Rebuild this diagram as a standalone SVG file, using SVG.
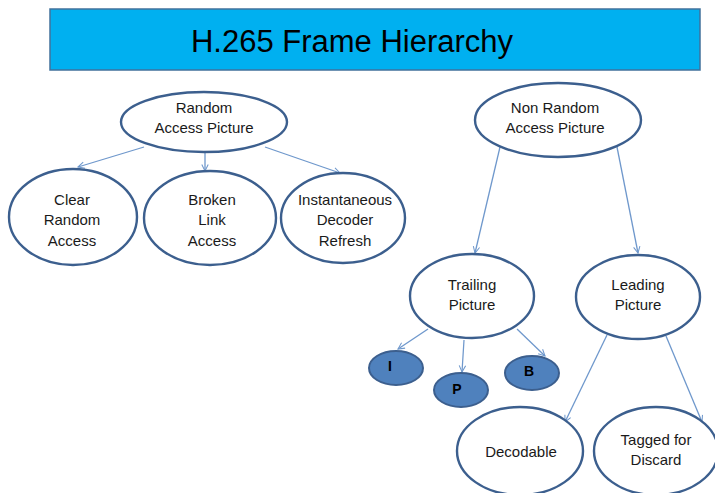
<svg xmlns="http://www.w3.org/2000/svg" width="715" height="493" viewBox="0 0 715 493">
<defs>
<marker id="arr" viewBox="0 0 10 10" refX="9" refY="5" markerWidth="8" markerHeight="8" orient="auto" markerUnits="userSpaceOnUse">
<path d="M1,1 L9,5 L1,9" fill="none" stroke="#6F98CC" stroke-width="1.3"/>
</marker>
</defs>
<style>
.n{fill:#fff;stroke:#3C5F8E;stroke-width:2.4}
.s{fill:#4F81BD;stroke:#3C5F8E;stroke-width:2}
.t{font-family:"Liberation Sans",Arial,sans-serif;font-size:15px;fill:#1a1a1a;text-anchor:middle}
.b{font-family:"Liberation Sans",Arial,sans-serif;font-size:14px;font-weight:bold;fill:#000;text-anchor:middle}
.c{fill:none;stroke:#6F98CC;stroke-width:1.3;marker-end:url(#arr)}
</style>
<rect width="715" height="493" fill="#fff"/>
<g id="title">
<rect x="50" y="9" width="650" height="61" fill="#00B0F0" stroke="#41719C" stroke-width="1.5"/>
<text x="352" y="52" style="font-family:'Liberation Sans',Arial,sans-serif;font-size:31px;fill:#000" text-anchor="middle">H.265 Frame Hierarchy</text>
</g>
<g id="connectors">
<line class="c" x1="144" y1="147" x2="78" y2="167"/>
<line class="c" x1="205" y1="153" x2="205" y2="171"/>
<line class="c" x1="265" y1="147" x2="340" y2="173"/>
<line class="c" x1="500" y1="147" x2="475" y2="253"/>
<line class="c" x1="617" y1="147" x2="638" y2="253"/>
<line class="c" x1="428" y1="329" x2="398" y2="349"/>
<line class="c" x1="464" y1="340" x2="462" y2="372"/>
<line class="c" x1="517" y1="329" x2="545" y2="356"/>
<line class="c" x1="607" y1="335" x2="565" y2="422"/>
<line class="c" x1="666" y1="336" x2="702" y2="422"/>
</g>
<g id="rap">
<ellipse class="n" cx="204" cy="122" rx="83" ry="30"/>
<text class="t" x="204" y="113">Random</text>
<text class="t" x="204" y="133">Access Picture</text>
</g>
<g id="cra">
<ellipse class="n" cx="73" cy="217" rx="64" ry="48"/>
<text class="t" x="72" y="205">Clear</text>
<text class="t" x="72" y="225">Random</text>
<text class="t" x="72" y="246">Access</text>
</g>
<g id="bla">
<ellipse class="n" cx="210" cy="218" rx="66" ry="47"/>
<text class="t" x="212" y="205">Broken</text>
<text class="t" x="212" y="225">Link</text>
<text class="t" x="212" y="246">Access</text>
</g>
<g id="idr">
<ellipse class="n" cx="343" cy="218" rx="62" ry="45"/>
<text class="t" x="345" y="205">Instantaneous</text>
<text class="t" x="345" y="225">Decoder</text>
<text class="t" x="345" y="246">Refresh</text>
</g>
<g id="nrap">
<ellipse class="n" cx="558" cy="120" rx="83" ry="37"/>
<text class="t" x="555" y="113">Non Random</text>
<text class="t" x="555" y="133">Access Picture</text>
</g>
<g id="trailing">
<ellipse class="n" cx="472" cy="296" rx="62" ry="42"/>
<text class="t" x="472" y="290">Trailing</text>
<text class="t" x="472" y="310">Picture</text>
</g>
<g id="leading">
<ellipse class="n" cx="638" cy="297" rx="62" ry="42"/>
<text class="t" x="638" y="290">Leading</text>
<text class="t" x="638" y="310">Picture</text>
</g>
<g id="i">
<ellipse class="s" cx="396" cy="368" rx="27" ry="17"/>
<text class="b" x="390" y="371">I</text>
</g>
<g id="p">
<ellipse class="s" cx="461" cy="390" rx="27" ry="17"/>
<text class="b" x="457" y="394">P</text>
</g>
<g id="b">
<ellipse class="s" cx="532" cy="373" rx="27" ry="17"/>
<text class="b" x="529" y="376">B</text>
</g>
<g id="decodable">
<ellipse class="n" cx="520" cy="451" rx="63" ry="44"/>
<text class="t" x="521" y="457">Decodable</text>
</g>
<g id="tagged">
<ellipse class="n" cx="656" cy="451" rx="62" ry="44"/>
<text class="t" x="656" y="445">Tagged for</text>
<text class="t" x="656" y="465">Discard</text>
</g>
</svg>
